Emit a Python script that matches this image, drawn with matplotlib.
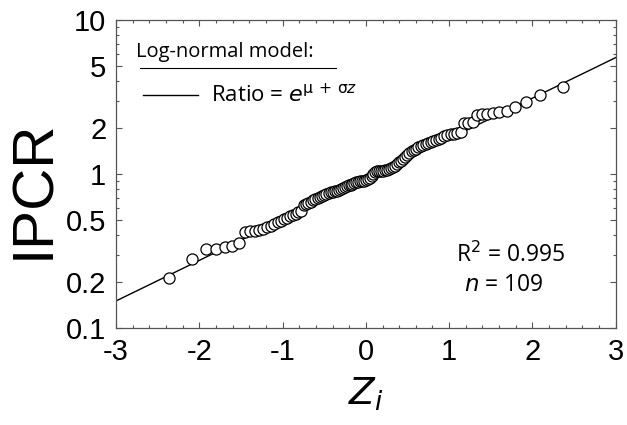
import matplotlib
matplotlib.use("Agg")
import matplotlib.pyplot as plt
from matplotlib.ticker import FixedLocator, NullFormatter, MultipleLocator

# normal scores z_i for the 109 ranked ratios
z_lower = [-2.362, -2.093, -1.923, -1.795, -1.691, -1.603, -1.525, -1.456, -1.393,
           -1.335, -1.282, -1.231, -1.184, -1.140, -1.097, -1.056, -1.017, -0.980,
           -0.943, -0.908, -0.874, -0.842, -0.810, -0.778, -0.748, -0.718, -0.689,
           -0.660, -0.632, -0.605, -0.578, -0.551, -0.524, -0.498, -0.473, -0.448,
           -0.422, -0.398, -0.373, -0.349, -0.325, -0.301, -0.277, -0.253, -0.230,
           -0.207, -0.184, -0.161, -0.137, -0.114, -0.091, -0.068, -0.046, -0.023]
z_mid = [0.0]
z_upper = [0.023, 0.046, 0.068, 0.091, 0.114, 0.137, 0.161, 0.184, 0.207, 0.230,
           0.253, 0.277, 0.301, 0.325, 0.349, 0.373, 0.398, 0.422, 0.448, 0.473,
           0.498, 0.524, 0.551, 0.578, 0.605, 0.632, 0.660, 0.689, 0.718, 0.748,
           0.778, 0.810, 0.842, 0.874, 0.908, 0.943, 0.980, 1.017, 1.056, 1.097,
           1.140, 1.184, 1.231, 1.282, 1.335, 1.393, 1.456, 1.525, 1.603, 1.691,
           1.795, 1.923, 2.093, 2.362]

ipcr = [0.210, 0.282, 0.324, 0.326, 0.337, 0.342, 0.355, 0.418, 0.426, 0.428,
        0.433, 0.437, 0.455, 0.462, 0.475, 0.487, 0.499, 0.510, 0.521, 0.532,
        0.543, 0.554, 0.565, 0.576, 0.629, 0.640, 0.652, 0.663, 0.675, 0.686,
        0.697, 0.709, 0.720, 0.732, 0.743, 0.754, 0.761, 0.766, 0.773, 0.779,
        0.789, 0.800, 0.811, 0.822, 0.832, 0.843, 0.854, 0.865, 0.877, 0.888,
        0.890, 0.895, 0.898, 0.902, 0.911, 0.924, 0.941, 0.967, 0.999, 1.024,
        1.039, 1.047, 1.050, 1.052, 1.055, 1.065, 1.080, 1.096, 1.112, 1.128,
        1.158, 1.190, 1.221, 1.257, 1.294, 1.332, 1.369, 1.408, 1.438, 1.462,
        1.489, 1.515, 1.546, 1.573, 1.602, 1.624, 1.648, 1.673, 1.697, 1.725,
        1.754, 1.789, 1.813, 1.827, 1.848, 1.866, 2.13, 2.16, 2.18, 2.42,
        2.44, 2.45, 2.48, 2.53, 2.55, 2.74, 2.95, 3.26, 3.66]

# fitted log-normal line, end points
line_z = [-3, 3]
line_ipcr = [0.150, 5.70]

y_ticks = [0.1, 0.2, 0.5, 1, 2, 5, 10]
y_ticklabels = ['0.1', '0.2', '0.5', '1', '2', '5', '10']
x_ticks = [-3, -2, -1, 0, 1, 2, 3]

z = z_lower + z_mid + z_upper

fig = plt.figure(figsize=(6.27, 4.25), dpi=100)
ax = fig.add_axes([0.185, 0.228, 0.797, 0.725])

ax.plot(line_z, line_ipcr, color='black', lw=1.0, zorder=2)
ax.plot(z, ipcr, 'o', ms=8, mfc='white', mec='black', mew=0.9, zorder=3,
        linestyle='none')

ax.set_yscale('log')
ax.set_xlim(-3, 3)
ax.set_ylim(0.1, 10)

ax.yaxis.set_major_locator(FixedLocator(y_ticks))
ax.set_yticklabels(y_ticklabels)
ax.yaxis.set_minor_formatter(NullFormatter())
ax.set_xticks(x_ticks)
ax.set_xticklabels(['-3', '-2', '-1', '0', '1', '2', '3'])
ax.xaxis.set_minor_locator(MultipleLocator(0.2))

ax.tick_params(which='both', direction='in', top=True, right=True,
               color='#555555', width=0.8)
ax.tick_params(which='major', length=4, labelsize=21, pad=7)
ax.tick_params(which='minor', length=2.5)
for lbl in ax.get_xticklabels() + ax.get_yticklabels():
    lbl.set_fontfamily('Liberation Sans')
for sp in ax.spines.values():
    sp.set_color('#555555')
    sp.set_linewidth(0.9)

ax.set_ylabel('IPCR', fontsize=42, family='Liberation Sans')
ax.yaxis.set_label_coords(-0.11, 0.45)
ax.set_xlabel(r'$Z_i$', fontsize=27, labelpad=7)

# legend drawn by hand
ax.text(0.04, 0.895, 'Log-normal model:', transform=ax.transAxes,
        fontsize=14.5, family='Open Sans', va='center')
ax.plot([0.048, 0.44], [0.844, 0.844], transform=ax.transAxes,
        color='black', lw=0.8)
ax.plot([0.055, 0.165], [0.755, 0.755], transform=ax.transAxes,
        color='black', lw=1.0)
ax.text(0.19, 0.755, r'Ratio = $e^{\mathrm{μ\,+\,σ}z}$', transform=ax.transAxes,
        fontsize=16, family='Open Sans', va='center')

ax.text(0.79, 0.235, r'R$^2$ = 0.995', transform=ax.transAxes,
        fontsize=16.5, family='Open Sans', ha='center', va='center')
ax.text(0.775, 0.14, r'$n$ = 109', transform=ax.transAxes,
        fontsize=16.5, family='Open Sans', ha='center', va='center')

fig.savefig('out.png', dpi=100, facecolor='white')
